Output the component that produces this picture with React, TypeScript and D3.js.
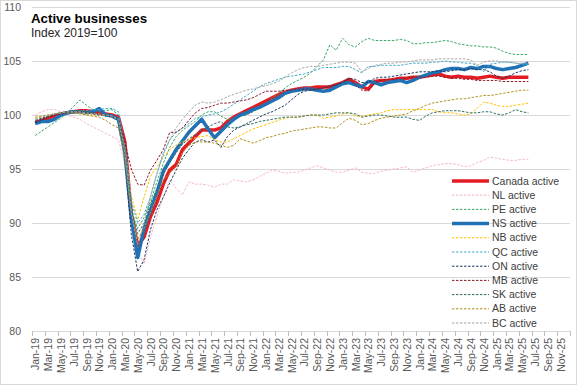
import React, { useRef, useEffect } from 'react';
import * as d3 from 'd3';

const monthNames = ['Jan', 'Feb', 'Mar', 'Apr', 'May', 'Jun', 'Jul', 'Aug', 'Sep', 'Oct', 'Nov', 'Dec'];
const years = ['19', '20', '21', '22', '23', '24', '25'];
const months = years.flatMap(y => monthNames.map(m => `${m}-${y}`));
const yTicks = [80, 85, 90, 95, 100, 105, 110];

const canada = [99.3, 99.5, 99.7, 99.9, 100.1, 100.2, 100.3, 100.4, 100.4, 100.3,
  100.2, 100.1, 100.0, 99.8, 97.5, 90.8, 87.9, 88.7, 90.6, 91.9,
  93.6, 94.9, 95.4, 96.8, 97.4, 98.0, 98.6, 98.6, 98.6, 98.8,
  99.4, 99.8, 100.1, 100.4, 100.7, 101.0, 101.3, 101.6, 101.9, 102.1,
  102.3, 102.4, 102.5, 102.5, 102.6, 102.6, 102.6, 102.8, 103.0, 103.3,
  103.0, 102.6, 102.4, 103.1, 103.2, 103.2, 103.3, 103.4, 103.4, 103.5,
  103.5, 103.6, 103.7, 103.8, 103.6, 103.5, 103.6, 103.5, 103.5, 103.4,
  103.5, 103.6, 103.5, 103.4, 103.5, 103.5, 103.5, 103.5];

const nl = [100.0, 100.3, 100.5, 100.5, 100.3, 100.0, 99.8, 99.6, 99.2, 98.9,
  98.6, 98.3, 98.0, 97.7, 95.5, 90.5, 87.5, 86.2, 88.7, 90.6,
  92.4, 94.0, 93.2, 92.6, 93.8, 93.6, 93.6, 93.5, 93.3, 93.6,
  93.6, 94.0, 93.9, 93.8, 94.0, 94.3, 94.6, 94.9, 94.8, 94.6,
  94.7, 94.7, 94.9, 95.1, 95.3, 95.1, 94.9, 94.7, 94.7, 94.9,
  95.1, 94.7, 94.6, 94.6, 94.8, 94.9, 95.0, 95.1, 95.2, 94.7,
  94.9, 95.1, 95.3, 95.4, 95.5, 95.5, 95.4, 95.2, 95.3, 95.6,
  95.8, 96.1, 96.0, 95.9, 95.8, 95.8, 95.9, 95.9];

const pe = [98.1, 98.5, 98.9, 99.3, 99.7, 100.2, 100.8, 101.4, 100.9, 100.5,
  100.3, 100.4, 100.5, 100.0, 96.8, 91.0, 89.5, 90.5, 92.0, 93.8,
  95.5, 97.0, 98.0, 98.6, 99.0, 99.4, 100.0, 100.3, 100.3, 99.9,
  99.6, 99.7, 99.9, 100.0, 100.3, 100.6, 101.0, 101.6, 102.0, 102.5,
  102.9, 103.2, 103.5, 103.9, 104.5, 105.1, 106.5, 106.0, 107.1, 106.5,
  106.3, 106.8, 107.1, 106.9, 106.9, 106.9, 106.9, 107.0, 106.9, 106.6,
  106.6, 106.7, 106.7, 106.8, 106.9, 106.8, 106.6, 106.5, 106.4, 106.4,
  106.3, 106.3, 106.2, 105.9, 105.7, 105.6, 105.6, 105.6];

const ns = [99.2, 99.4, 99.4, 99.6, 100.0, 100.2, 100.3, 100.3, 100.2, 100.3,
  100.6, 100.0, 99.9, 99.6, 96.5, 90.5, 86.8, 89.5, 91.2, 92.8,
  94.8, 95.8, 96.8, 97.6, 98.4, 99.0, 99.6, 98.7, 97.9, 98.5,
  99.1, 99.6, 100.0, 100.2, 100.5, 100.7, 101.0, 101.3, 101.6, 102.0,
  102.2, 102.3, 102.4, 102.4, 102.3, 102.2, 102.3, 102.6, 102.9, 103.0,
  102.8, 102.6, 103.1, 103.0, 102.8, 103.0, 103.1, 103.2, 103.0, 103.2,
  103.5, 103.7, 103.9, 104.0, 104.2, 104.3, 104.3, 104.2, 104.4, 104.3,
  104.5, 104.5, 104.3, 104.2, 104.3, 104.4, 104.6, 104.8];

const nb = [99.7, 99.8, 100.0, 100.1, 100.2, 100.3, 100.3, 100.2, 100.1, 100.0,
  100.0, 100.0, 99.9, 99.5, 97.0, 92.5, 90.3, 92.4, 94.3, 95.2,
  96.1, 96.8, 97.2, 97.5, 97.7, 97.9, 98.0, 98.1, 97.7, 97.5,
  97.5, 97.8, 98.1, 98.4, 98.7, 98.9, 99.1, 99.3, 99.5, 99.7,
  99.8, 99.8, 99.9, 100.0, 100.0, 99.7, 99.8, 99.9, 100.1, 100.2,
  99.9, 99.9, 100.0, 100.1, 100.2, 100.4, 100.5, 100.5, 100.5, 100.5,
  100.5, 100.5, 100.5, 100.3, 100.2, 100.2, 100.1, 100.0, 100.1, 100.6,
  101.2, 101.1, 100.9, 100.8, 100.8, 100.9, 101.0, 101.1];

const qc = [99.5, 99.7, 99.9, 100.1, 100.2, 100.3, 100.3, 100.4, 100.4, 100.5,
  100.5, 100.6, 100.6, 100.3, 97.0, 92.0, 90.0, 90.8, 92.4, 94.6,
  96.5, 97.7, 98.4, 98.8, 99.2, 99.7, 99.8, 100.0, 100.1, 100.3,
  100.6, 101.0, 101.4, 101.8, 102.2, 102.6, 102.9, 103.1, 103.3, 103.5,
  103.6, 103.7, 103.8, 104.0, 104.2, 104.4, 104.4, 104.4, 104.5, 104.5,
  104.2, 103.9, 104.5, 104.5, 104.6, 104.6, 104.6, 104.6, 104.7, 104.8,
  104.8, 104.8, 104.9, 104.9, 105.0, 104.9, 104.9, 104.8, 104.8, 104.6,
  104.0, 104.7, 104.8, 104.9, 104.9, 104.8, 104.7, 104.7];

const on = [99.3, 99.5, 99.8, 100.0, 100.2, 100.3, 100.3, 100.3, 100.2, 100.1,
  100.0, 100.0, 99.9, 99.5, 96.0, 89.0, 85.5, 86.6, 89.4, 91.2,
  92.4, 93.7, 94.9, 96.0, 96.8, 97.5, 97.7, 97.5, 97.7, 97.0,
  98.0, 98.6, 98.9, 99.2, 99.5, 99.8, 100.1, 100.3, 100.6, 100.9,
  101.4, 101.9, 102.2, 102.3, 102.4, 102.5, 102.7, 102.8, 103.0, 103.4,
  103.3, 103.0, 103.0, 103.4, 103.5, 103.5, 103.6, 103.7, 103.8, 103.9,
  104.0, 104.0, 104.0, 104.1, 104.0, 104.1, 104.2, 104.2, 104.3, 104.2,
  104.2, 104.0, 103.6, 103.4, 103.6, 103.9, 104.1, 104.2];

const mb = [99.4, 99.6, 99.8, 100.0, 100.1, 100.2, 100.3, 100.3, 100.3, 100.2,
  100.1, 100.0, 99.9, 99.6, 97.5, 95.0, 93.6, 93.5, 94.9, 95.8,
  96.8, 98.4, 98.4, 98.8, 99.5, 100.2, 100.6, 100.7, 100.9, 101.1,
  101.1, 101.2, 101.3, 101.4, 101.6, 101.9, 102.2, 102.2, 102.2, 102.3,
  102.3, 102.4, 102.4, 102.4, 102.4, 102.5, 102.6, 102.8, 103.1, 103.3,
  102.8, 102.3, 102.2, 103.0, 103.2, 103.3, 103.3, 103.4, 103.4, 103.5,
  103.5, 103.5, 103.6, 103.6, 103.5, 103.4, 103.4, 103.3, 103.3, 103.2,
  103.2, 103.2, 103.2, 103.1, 103.1, 103.1, 103.1, 103.1];

const sk = [99.5, 99.7, 99.9, 100.1, 100.2, 100.3, 100.4, 100.4, 100.3, 100.2,
  100.1, 100.0, 99.9, 99.5, 96.8, 91.5, 89.0, 90.0, 91.8, 93.2,
  94.5, 95.6, 96.5, 97.3, 97.8, 98.2, 98.6, 98.9, 99.2, 99.4,
  98.9, 98.8, 98.9, 99.1, 99.2, 99.4, 99.5, 99.6, 99.7, 99.8,
  99.8, 99.8, 99.9, 100.0, 100.0, 100.0, 100.1, 100.2, 100.2, 100.2,
  100.1, 99.8, 99.9, 100.0, 100.0, 99.9, 99.8, 99.8, 99.8, 99.6,
  99.5, 99.9, 100.2, 100.3, 100.4, 100.4, 100.4, 100.3, 100.2, 100.2,
  100.3, 100.3, 100.1, 100.0, 100.2, 100.5, 100.3, 100.2];

const ab = [99.8, 99.9, 100.0, 100.1, 100.2, 100.2, 100.2, 100.1, 100.0, 99.9,
  99.8, 99.5, 99.1, 98.8, 96.0, 91.0, 88.5, 89.5, 91.0, 92.4,
  94.0, 94.6, 95.2, 96.5, 97.2, 97.5, 97.5, 97.5, 97.4, 97.2,
  97.0, 97.2, 97.8, 97.6, 97.4, 97.6, 97.9, 98.0, 98.2, 98.3,
  98.5, 98.6, 98.7, 98.8, 98.9, 98.9, 98.8, 98.8, 99.3, 99.7,
  99.5, 99.1, 99.2, 99.5, 99.7, 99.8, 99.9, 100.0, 100.1, 100.4,
  100.6, 100.9, 101.1, 101.2, 101.3, 101.4, 101.5, 101.5, 101.6, 101.7,
  101.8, 101.8, 101.9, 102.0, 102.1, 102.2, 102.3, 102.3];

const bc = [99.6, 99.8, 100.0, 100.1, 100.2, 100.3, 100.3, 100.3, 100.2, 100.1,
  100.1, 100.0, 99.9, 99.6, 96.5, 91.0, 88.0, 90.0, 92.5, 94.5,
  96.3, 97.7, 98.8, 99.6, 100.3, 100.9, 101.2, 101.1, 101.2, 101.4,
  101.7, 101.9, 102.1, 102.3, 102.4, 102.6, 102.7, 102.9, 103.1, 103.5,
  103.9, 104.2, 104.4, 104.5, 104.5, 104.6, 104.7, 104.8, 104.9, 104.9,
  104.8, 104.0, 104.3, 104.6, 104.7, 104.8, 104.8, 104.9, 104.9, 105.0,
  105.1, 105.1, 105.1, 105.2, 105.2, 105.2, 105.2, 105.2, 105.1, 104.6,
  104.9, 105.0, 105.0, 104.9, 104.9, 104.8, 104.8, 104.8];

const series = [
  { name: 'Canada active', values: canada, color: '#E31B23', width: 3.5, dash: null },
  { name: 'NL active', values: nl, color: '#F5B8C4', width: 1, dash: '2.5,1.5' },
  { name: 'PE active', values: pe, color: '#3AA565', width: 1, dash: '2.5,1.5' },
  { name: 'NS active', values: ns, color: '#2172B5', width: 3.5, dash: null },
  { name: 'NB active', values: nb, color: '#FFC000', width: 1, dash: '2.5,1.5' },
  { name: 'QC active', values: qc, color: '#3FA9C9', width: 1, dash: '2.5,1.5' },
  { name: 'ON active', values: on, color: '#1F3864', width: 1, dash: '2.5,1.5' },
  { name: 'MB active', values: mb, color: '#8B1C2C', width: 1, dash: '2.5,1.5' },
  { name: 'SK active', values: sk, color: '#2B6E5A', width: 1, dash: '2.5,1.5' },
  { name: 'AB active', values: ab, color: '#B0901E', width: 1, dash: '2.5,1.5' },
  { name: 'BC active', values: bc, color: '#A6A6A6', width: 1, dash: '2.5,1.5' },
];

const width = 577;
const height = 385;
const font = '"Liberation Sans", Arial, sans-serif';

const App = () => {
  const svgRef = useRef(null);

  useEffect(() => {
    const svg = d3.select(svgRef.current);
    svg.selectAll('*').remove();

    const margin = { top: 7, right: 7, bottom: 54, left: 32 };
    const innerWidth = width - margin.left - margin.right;
    const innerHeight = height - margin.top - margin.bottom;

    const xScale = d3.scaleBand().domain(months).range([0, innerWidth]).padding(0);
    const yScale = d3.scaleLinear().domain([80, 110]).range([innerHeight, 0]);

    svg.append('rect')
      .attr('x', 0.5).attr('y', 0.5)
      .attr('width', width - 1).attr('height', height - 1)
      .attr('fill', '#fff').attr('stroke', '#D9D9D9');

    const g = svg.append('g')
      .attr('transform', `translate(${margin.left}, ${margin.top})`);

    // gridlines
    g.selectAll('.grid')
      .data(yTicks)
      .join('line')
      .attr('x1', 0).attr('x2', innerWidth)
      .attr('y1', d => Math.round(yScale(d)) + 0.5)
      .attr('y2', d => Math.round(yScale(d)) + 0.5)
      .attr('stroke', '#D9D9D9').attr('stroke-width', 1);

    // y labels
    g.selectAll('.ylab')
      .data(yTicks)
      .join('text')
      .attr('x', -11)
      .attr('y', d => yScale(d))
      .attr('dy', '0.35em')
      .attr('text-anchor', 'end')
      .attr('font-family', font).attr('font-size', 10.5)
      .attr('fill', '#595959')
      .text(d => d);

    // x ticks every two months
    const tickIdx = d3.range(0, months.length + 1, 2);
    g.selectAll('.xtick')
      .data(tickIdx)
      .join('line')
      .attr('x1', d => Math.round(d * xScale.step()) + 0.5)
      .attr('x2', d => Math.round(d * xScale.step()) + 0.5)
      .attr('y1', innerHeight).attr('y2', innerHeight + 5)
      .attr('stroke', '#BFBFBF');

    const labelMonths = months.filter((m, i) => i % 2 === 0);
    g.selectAll('.xlab')
      .data(labelMonths)
      .join('text')
      .attr('transform', d => `translate(${xScale(d) + xScale.bandwidth() / 2 + 0.5}, ${innerHeight + 7}) rotate(-90)`)
      .attr('dy', '0.35em')
      .attr('text-anchor', 'end')
      .attr('font-family', font).attr('font-size', 10.5)
      .attr('fill', '#595959')
      .text(d => d);

    const line = d3.line()
      .x((d, i) => xScale(months[i]) + xScale.bandwidth() / 2)
      .y(d => yScale(d));

    series.forEach(s => {
      g.append('path')
        .attr('d', line(s.values))
        .attr('fill', 'none')
        .attr('stroke', s.color)
        .attr('stroke-width', s.width)
        .attr('stroke-dasharray', s.dash)
        .attr('stroke-linejoin', 'round');
    });

    // legend
    const legend = svg.append('g').attr('transform', 'translate(452, 181)');
    const rowH = 14.2;
    legend.selectAll('line')
      .data(series)
      .join('line')
      .attr('x1', 0).attr('x2', 37)
      .attr('y1', (d, i) => i * rowH).attr('y2', (d, i) => i * rowH)
      .attr('stroke', d => d.color)
      .attr('stroke-width', d => d.width)
      .attr('stroke-dasharray', d => d.dash);

    legend.selectAll('text')
      .data(series)
      .join('text')
      .attr('x', 40)
      .attr('y', (d, i) => i * rowH)
      .attr('dy', '0.35em')
      .attr('font-family', font).attr('font-size', 10.5)
      .attr('fill', '#404040')
      .text(d => d.name);

    // title
    svg.append('text')
      .attr('x', 31).attr('y', 23)
      .attr('font-family', font).attr('font-size', 13.3).attr('font-weight', 'bold')
      .attr('fill', '#000')
      .text('Active businesses');
    svg.append('text')
      .attr('x', 31).attr('y', 37)
      .attr('font-family', font).attr('font-size', 12)
      .attr('fill', '#262626')
      .text('Index 2019=100');
  }, []);

  return (
    <svg ref={svgRef} width={width} height={height}
      style={{ position: 'absolute', left: 0, top: 0, display: 'block' }}></svg>
  );
};

export default App;
